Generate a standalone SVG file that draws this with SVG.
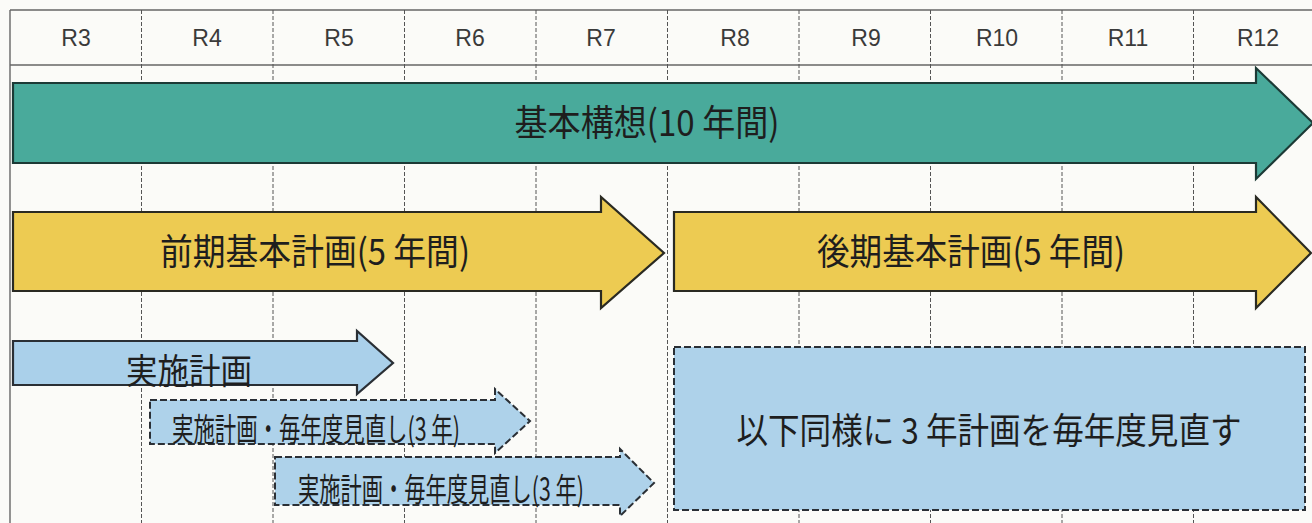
<svg xmlns="http://www.w3.org/2000/svg" width="1312" height="523" viewBox="0 0 1312 523">
<defs>
<style>
.grid{stroke:#555;stroke-width:1;stroke-dasharray:4 2;fill:none}
.frame{stroke:#666;stroke-width:1.4;fill:none}
.hdr{font-family:"Liberation Sans",Arial,sans-serif;font-size:23px;fill:#3a3a3a;text-anchor:middle}
.jp{font-family:"Noto Sans CJK JP","Noto Sans CJK SC",sans-serif;fill:#1e1e1e}
.teal{fill:#49aa9b;stroke:#1c3a36;stroke-width:2.2}
.yel{fill:#edcb52;stroke:#2a2a22;stroke-width:2.2}
.blue{fill:#aad0ea;stroke:#2a2f35;stroke-width:2.2}
.dash{fill:#aed2ea;stroke:#2a2f35;stroke-width:2;stroke-dasharray:7 3}
</style>
</defs>
<rect width="1312" height="523" fill="#fbfbf8"/>
<g id="grid">
<line class="frame" x1="10" y1="10" x2="1312" y2="10"/>
<line class="frame" x1="10" y1="65" x2="1312" y2="65"/>
<line class="frame" x1="10" y1="10" x2="10" y2="523"/>
<line class="grid" x1="141.5" y1="10" x2="141.5" y2="523"/>
<line class="grid" x1="273" y1="10" x2="273" y2="523"/>
<line class="grid" x1="404.5" y1="10" x2="404.5" y2="523"/>
<line class="grid" x1="536" y1="10" x2="536" y2="523"/>
<line class="grid" x1="667.5" y1="10" x2="667.5" y2="523"/>
<line class="grid" x1="799" y1="10" x2="799" y2="523"/>
<line class="grid" x1="930.5" y1="10" x2="930.5" y2="523"/>
<line class="grid" x1="1062" y1="10" x2="1062" y2="523"/>
<line class="grid" x1="1193.5" y1="10" x2="1193.5" y2="523"/>
</g>
<g id="header">
<text class="hdr" x="76" y="46">R3</text>
<text class="hdr" x="207" y="46">R4</text>
<text class="hdr" x="339" y="46">R5</text>
<text class="hdr" x="470" y="46">R6</text>
<text class="hdr" x="601" y="46">R7</text>
<text class="hdr" x="735" y="46">R8</text>
<text class="hdr" x="866" y="46">R9</text>
<text class="hdr" x="997" y="46">R10</text>
<text class="hdr" x="1128" y="46">R11</text>
<text class="hdr" x="1258" y="46">R12</text>
</g>
<g id="connectors"></g>
<g id="kihon-kousou">
<path class="teal" d="M13,83 H1256 V68 L1313,123 L1256,179 V163 H13 Z"/>
<text class="jp" x="647" y="136" font-size="36" text-anchor="middle" textLength="265" lengthAdjust="spacingAndGlyphs">基本構想(10 年間)</text>
</g>
<g id="zenki">
<path class="yel" d="M13,212 H601 V197 L664,253 L601,308 V291 H13 Z"/>
<text class="jp" x="315" y="265" font-size="36" text-anchor="middle" textLength="310" lengthAdjust="spacingAndGlyphs">前期基本計画(5 年間)</text>
</g>
<g id="kouki">
<path class="yel" d="M674,212 H1256 V197 L1311,253 L1256,308 V291 H674 Z"/>
<text class="jp" x="971" y="265" font-size="36" text-anchor="middle" textLength="308" lengthAdjust="spacingAndGlyphs">後期基本計画(5 年間)</text>
</g>
<g id="jisshi">
<path class="blue" d="M13,341 H357 V331 L393,363 L357,394 V385 H13 Z"/>
<text class="jp" x="126" y="384" font-size="35" textLength="126" lengthAdjust="spacingAndGlyphs">実施計画</text>
</g>
<g id="review1">
<path class="dash" d="M150,400 H495 V389 L530,421 L495,453 V444 H150 Z"/>
<text class="jp" x="172" y="441" font-size="32" textLength="288" lengthAdjust="spacingAndGlyphs">実施計画・毎年度見直し(3 年)</text>
</g>
<g id="review2">
<path class="dash" d="M275,457 H620 V449 L654,483 L620,516 V505 H275 Z"/>
<text class="jp" x="298" y="501" font-size="32" textLength="286" lengthAdjust="spacingAndGlyphs">実施計画・毎年度見直し(3 年)</text>
</g>
<g id="following">
<rect class="dash" x="674" y="347" width="631" height="163"/>
<text class="jp" x="989" y="444" font-size="36" text-anchor="middle" textLength="505" lengthAdjust="spacingAndGlyphs">以下同様に 3 年計画を毎年度見直す</text>
</g>
</svg>
